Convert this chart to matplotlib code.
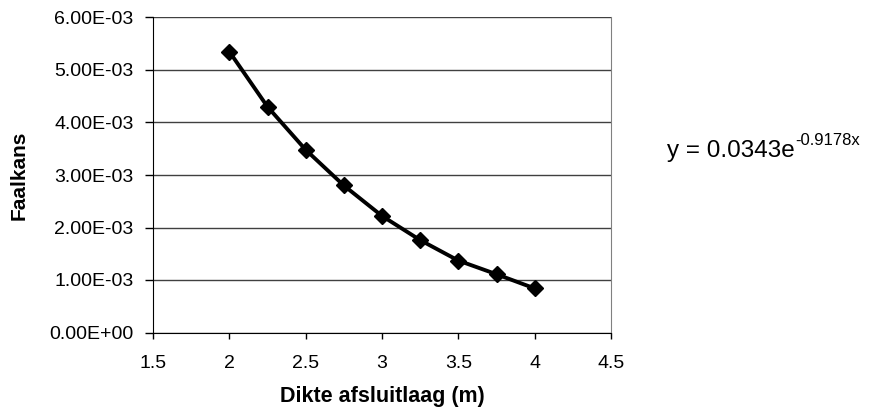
import matplotlib
matplotlib.use("Agg")
import matplotlib.pyplot as plt
from matplotlib.ticker import FuncFormatter, MultipleLocator

plt.rcParams['font.family'] = ['Liberation Sans', 'DejaVu Sans']

dikte = [2.0, 2.25, 2.5, 2.75, 3.0, 3.25, 3.5, 3.75, 4.0]
faalkans = [5.35e-3, 4.30e-3, 3.48e-3, 2.80e-3, 2.22e-3, 1.76e-3, 1.37e-3, 1.11e-3, 0.84e-3]
x_label = "Dikte afsluitlaag (m)"
y_label = "Faalkans"
eq_main = "y = 0.0343e"
eq_exp = "-0.9178x"

fig = plt.figure(figsize=(8.78, 4.19), dpi=100)
ax = fig.add_axes([153/878, 1-332.5/419, (611-153)/878, (332.5-17.5)/419])

ax.plot(dikte, faalkans, color='black', lw=2.8, marker='D', markersize=8.5,
        markerfacecolor='black', markeredgecolor='black', zorder=3)

ax.set_xlim(1.5, 4.5)
ax.set_ylim(0, 6e-3)
ax.xaxis.set_major_locator(MultipleLocator(0.5))
ax.yaxis.set_major_locator(MultipleLocator(1e-3))
ax.xaxis.set_major_formatter(FuncFormatter(lambda v, p: f"{v:g}"))
ax.yaxis.set_major_formatter(FuncFormatter(lambda v, p: f"{v:.2E}"))

ax.grid(axis='y', color='#404040', lw=1.0)
ax.set_axisbelow(True)
ax.spines['top'].set_visible(False)
ax.spines['right'].set_color('#808080')
ax.spines['left'].set_color('black')
ax.spines['bottom'].set_color('black')
ax.tick_params(axis='both', direction='out', width=1, labelsize=14, color='black')
ax.tick_params(axis='x', length=4, pad=12)
ax.tick_params(axis='y', length=6, pad=8)

ax.set_xlabel(x_label, fontsize=15.5, fontweight='bold', labelpad=10)
ax.set_ylabel(y_label, fontsize=15, fontweight='bold', labelpad=15)

t = fig.text(667/878, 1-157/419, eq_main, fontsize=17.5, va='baseline', ha='left')
fig.canvas.draw()
bb = t.get_window_extent()
fig.text(bb.x1/878 + 0.5/878, 1-145/419, eq_exp, fontsize=12, va='baseline', ha='left')

fig.savefig("out.png", dpi=100)
